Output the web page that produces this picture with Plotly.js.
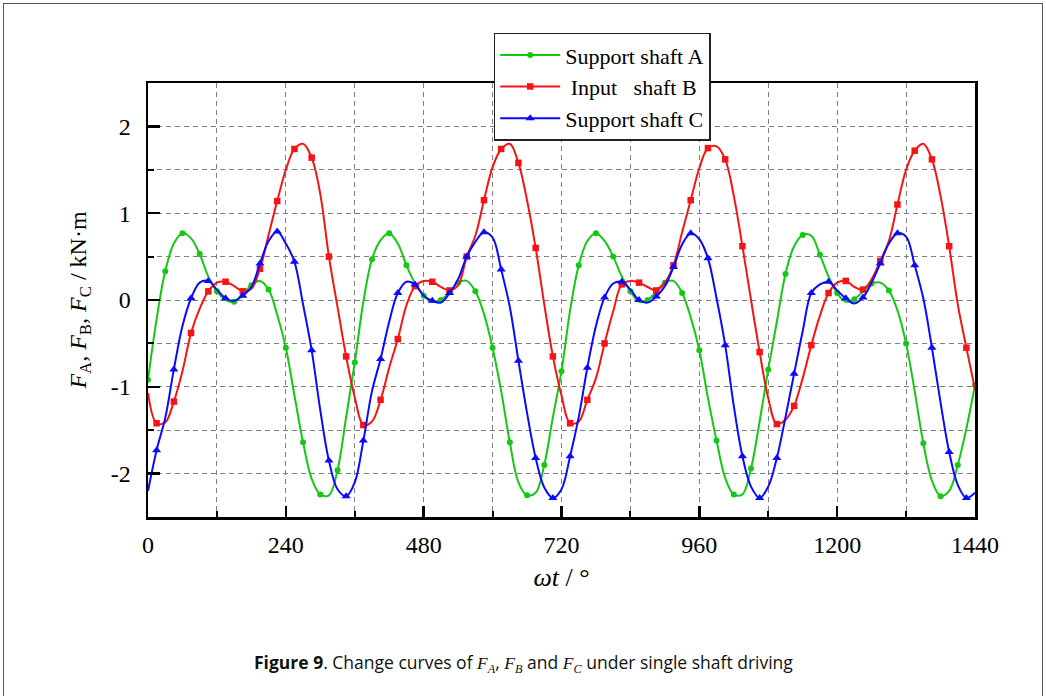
<!DOCTYPE html>
<html>
<head>
<meta charset="utf-8">
<script src="https://cdn.plot.ly/plotly-3.0.1.min.js"></script>
<style>
html, body { margin: 0; padding: 0; background: #fff; }
#chart { width: 1046px; height: 696px; }
#frame { position: absolute; left: 3px; top: 3px; width: 1038px; height: 720px; border: 1.5px solid #555; pointer-events: none; }
</style>
</head>
<body>
<div id="chart"></div>
<div id="frame"></div>
<script>
// rotation angle ωt in degrees
const angle = [
  0, 15, 30, 45, 60, 75, 90, 105, 120, 135, 150, 165, 180, 195, 210, 225, 240, 255, 270, 285, 300, 315, 330, 345,
  360, 375, 390, 405, 420, 435, 450, 465, 480, 495, 510, 525, 540, 555, 570, 585, 600, 615, 630, 645, 660, 675, 690, 705,
  720, 735, 750, 765, 780, 795, 810, 825, 840, 855, 870, 885, 900, 915, 930, 945, 960, 975, 990, 1005, 1020, 1035, 1050, 1065,
  1080, 1095, 1110, 1125, 1140, 1155, 1170, 1185, 1200, 1215, 1230, 1245, 1260, 1275, 1290, 1305, 1320, 1335, 1350, 1365, 1380, 1395, 1410, 1425,
  1440
];

// Support shaft A (kN·m)
const shaftA = [
  -0.92, -0.22, 0.33, 0.65, 0.77, 0.71, 0.53, 0.27, 0.10, 0.00, -0.02, 0.07, 0.17, 0.22, 0.12, -0.17, -0.55, -1.10, -1.64, -2.06, -2.24, -2.25, -1.96, -1.35,
  -0.72, -0.02, 0.47, 0.69, 0.77, 0.65, 0.40, 0.19, 0.05, -0.02, 0.00, 0.09, 0.20, 0.22, 0.10, -0.16, -0.55, -1.05, -1.64, -2.10, -2.25, -2.22, -1.90, -1.35,
  -0.82, -0.12, 0.40, 0.68, 0.77, 0.68, 0.50, 0.27, 0.10, -0.02, 0.00, 0.10, 0.20, 0.22, 0.08, -0.20, -0.58, -1.13, -1.62, -2.05, -2.24, -2.24, -1.94, -1.40,
  -0.80, -0.25, 0.30, 0.62, 0.75, 0.74, 0.52, 0.27, 0.08, -0.02, 0.01, 0.10, 0.19, 0.20, 0.11, -0.12, -0.50, -1.05, -1.65, -2.08, -2.26, -2.20, -1.90, -1.48,
  -0.98
];

// Input shaft B (kN·m)
const shaftB = [
  -1.07, -1.42, -1.41, -1.17, -0.82, -0.38, -0.10, 0.10, 0.20, 0.21, 0.16, 0.10, 0.13, 0.36, 0.75, 1.14, 1.50, 1.74, 1.80, 1.64, 1.22, 0.50, -0.08, -0.65,
  -1.12, -1.44, -1.40, -1.15, -0.78, -0.45, -0.06, 0.16, 0.22, 0.21, 0.15, 0.11, 0.17, 0.50, 0.74, 1.15, 1.53, 1.74, 1.80, 1.58, 1.15, 0.60, -0.05, -0.65,
  -1.10, -1.42, -1.40, -1.15, -0.90, -0.50, -0.13, 0.18, 0.22, 0.20, 0.15, 0.11, 0.20, 0.40, 0.78, 1.15, 1.52, 1.75, 1.77, 1.62, 1.20, 0.62, 0.00, -0.60,
  -1.13, -1.43, -1.38, -1.22, -0.90, -0.52, -0.18, 0.08, 0.20, 0.22, 0.15, 0.12, 0.24, 0.45, 0.68, 1.10, 1.50, 1.72, 1.80, 1.62, 1.20, 0.62, -0.05, -0.55,
  -1.03
];

// Support shaft C (kN·m)
const shaftC = [
  -2.20, -1.73, -1.36, -0.80, -0.30, 0.02, 0.20, 0.22, 0.12, 0.02, -0.01, 0.05, 0.15, 0.42, 0.68, 0.79, 0.65, 0.44, -0.05, -0.58, -1.27, -1.85, -2.18, -2.26,
  -2.10, -1.62, -1.05, -0.68, -0.25, 0.08, 0.21, 0.18, 0.05, -0.01, -0.03, 0.08, 0.24, 0.50, 0.67, 0.78, 0.72, 0.35, -0.08, -0.70, -1.30, -1.82, -2.16, -2.28,
  -2.18, -1.80, -1.35, -0.78, -0.30, 0.03, 0.19, 0.21, 0.12, 0.00, -0.03, 0.04, 0.16, 0.38, 0.64, 0.77, 0.70, 0.48, 0.02, -0.52, -1.22, -1.80, -2.15, -2.28,
  -2.15, -1.82, -1.35, -0.85, -0.36, 0.08, 0.18, 0.21, 0.11, 0.02, -0.04, 0.03, 0.20, 0.42, 0.65, 0.77, 0.73, 0.40, 0.02, -0.55, -1.18, -1.75, -2.13, -2.28,
  -2.22
];

const seriesNames = ['Support shaft A', '\u00a0Input\u00a0\u00a0\u00a0shaft B', 'Support shaft C'];
const xTickVals = [0, 240, 480, 720, 960, 1200, 1440];
const xTickText = ['0', '240', '480', '720', '960', '1200', '1440'];
const yTickVals = [-2, -1, 0, 1, 2];
const yTickText = ['-2', '-1', '0', '1', '2'];

const serif = 'Liberation Serif, Times New Roman, serif';
const colors = ['#14c814', '#f51414', '#0a0aff'];
const symbols = ['circle', 'square', 'triangle-up'];
const msizes = [6, 6.5, 8];
const ys = [shaftA, shaftB, shaftC];

const traces = ys.map((y, i) => ({
  type: 'scatter',
  mode: 'lines+markers',
  name: seriesNames[i],
  x: angle,
  y: y,
  line: { color: colors[i], width: 2, shape: 'spline', smoothing: 1 },
  marker: { color: colors[i], symbol: symbols[i], size: msizes[i], maxdisplayed: 49 }
}));

const gridDash = '5px,4px';
const layout = {
  width: 1046,
  height: 696,
  paper_bgcolor: 'white',
  plot_bgcolor: 'white',
  margin: { l: 148, r: 71, t: 83, b: 179 },
  font: { family: serif, color: '#000', size: 22 },
  showlegend: true,
  legend: {
    x: 0.418, y: 1.116, xanchor: 'left', yanchor: 'top',
    bgcolor: 'white', bordercolor: '#222', borderwidth: 1.5,
    font: { family: serif, size: 22, color: '#000' },
    itemwidth: 60, tracegroupgap: 0
  },
  xaxis: {
    range: [0, 1440],
    tickmode: 'array', tickvals: xTickVals, ticktext: xTickText,
    ticks: 'inside', ticklen: 11, tickwidth: 2.5, tickcolor: '#000',
    ticklabelstandoff: 5,
    tickfont: { family: serif, size: 24, color: '#000' },
    showline: true, linewidth: 2.5, linecolor: '#000', mirror: true,
    zeroline: false,
    showgrid: true, gridcolor: '#808080', gridwidth: 1, griddash: gridDash,
    minor: { dtick: 120, tick0: 0, ticks: 'inside', ticklen: 6, tickwidth: 2, tickcolor: '#000',
             showgrid: true, gridcolor: '#808080', gridwidth: 1, griddash: gridDash },
    title: { text: '<i>ωt</i> / °', font: { family: serif, size: 26, color: '#000' }, standoff: 11 }
  },
  yaxis: {
    range: [-2.5, 2.5],
    tickmode: 'array', tickvals: yTickVals, ticktext: yTickText,
    ticks: 'inside', ticklen: 12, tickwidth: 2.5, tickcolor: '#000',
    ticklabelstandoff: 10,
    tickfont: { family: serif, size: 24, color: '#000' },
    showline: true, linewidth: 2.5, linecolor: '#000', mirror: true,
    zeroline: false,
    showgrid: true, gridcolor: '#808080', gridwidth: 1, griddash: gridDash,
    minor: { dtick: 0.5, tick0: 0, ticks: 'inside', ticklen: 6, tickwidth: 2, tickcolor: '#000',
             showgrid: true, gridcolor: '#808080', gridwidth: 1, griddash: gridDash },
    title: { text: '<i>F</i><sub>A</sub>, <i>F</i><sub>B</sub>, <i>F</i><sub>C</sub> / kN·m',
             font: { family: serif, size: 24, color: '#000' }, standoff: 18 }
  },
  annotations: [{
    xref: 'paper', yref: 'paper',
    x: 0.4535, y: -0.336, xanchor: 'center', yanchor: 'middle',
    showarrow: false,
    text: '<b>Figure 9</b>. Change curves of <span style="font-family:Liberation Serif"><i>F<sub>A</sub></i></span>, <span style="font-family:Liberation Serif"><i>F<sub>B</sub></i></span> and <span style="font-family:Liberation Serif"><i>F<sub>C</sub></i></span> under single shaft driving',
    font: { family: 'Open Sans, Noto Sans, sans-serif', size: 17.5, color: '#111' }
  }]
};

Plotly.newPlot('chart', traces, layout, { displayModeBar: false, staticPlot: true });
</script>
</body>
</html>
